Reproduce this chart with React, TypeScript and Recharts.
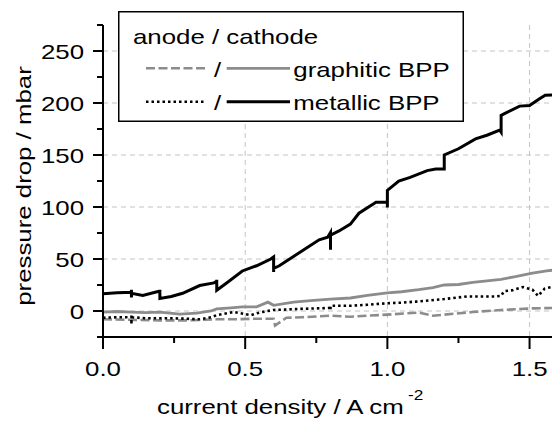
import { LineChart, Line, XAxis, YAxis, CartesianGrid, Legend, Label } from 'recharts'

const FONT = '"Liberation Sans", Arial, sans-serif'
const FS = 21
const SX = 1.23 // text in the figure is drawn wide

// current density / A cm-2 and pressure drop / mbar
const cathodeMetallicX = [0, 0.05, 0.1, 0.1, 0.1, 0.1, 0.14, 0.19, 0.2, 0.2, 0.2, 0.24, 0.28, 0.34, 0.39, 0.4, 0.4, 0.4, 0.43, 0.49, 0.54, 0.59, 0.6, 0.6, 0.6, 0.62, 0.69, 0.76, 0.79, 0.8, 0.8, 0.8, 0.83, 0.87, 0.9, 0.96, 0.995, 1.0, 1.0, 1.0, 1.04, 1.08, 1.14, 1.17, 1.2, 1.2, 1.25, 1.31, 1.35, 1.395, 1.4, 1.4, 1.41, 1.465, 1.5, 1.535, 1.555, 1.6]
const cathodeMetallicY = [16.5, 17.5, 18, 20.5, 13, 17, 15, 18.5, 19, 20.5, 12, 14, 17, 24.5, 27, 28.5, 30, 20, 26, 38.5, 43.5, 50, 52, 37.5, 41, 43.5, 56, 68.5, 71, 75.5, 59, 73, 77, 83.5, 94, 104.5, 104.5, 104, 99.5, 116, 125, 128.5, 135, 136.5, 136.5, 150, 156, 165.5, 169, 174, 172, 188, 189.5, 197, 197.5, 204, 207.5, 208]

const cathodeGraphiticX = [0, 0.05, 0.1, 0.15, 0.2, 0.27, 0.33, 0.38, 0.4, 0.45, 0.49, 0.54, 0.58, 0.6, 0.67, 0.73, 0.8, 0.87, 0.93, 1.0, 1.05, 1.11, 1.16, 1.2, 1.25, 1.3, 1.35, 1.4, 1.45, 1.51, 1.56, 1.6]
const cathodeGraphiticY = [-1, -0.5, -1, -1.5, -1, -3, -2, 0, 2, 3, 4, 4, 8.5, 5.5, 8.5, 10, 11.5, 12.5, 15, 17.5, 18.5, 20.5, 22.5, 25, 25.5, 27.5, 29, 30.5, 33, 36.5, 38.5, 40]

const anodeMetallicX = [0, 0.05, 0.1, 0.1, 0.1, 0.1, 0.15, 0.2, 0.25, 0.34, 0.38, 0.4, 0.46, 0.52, 0.55, 0.6, 0.65, 0.69, 0.75, 0.8, 0.8, 0.8, 0.87, 0.93, 1.0, 1.05, 1.1, 1.2, 1.28, 1.38, 1.4, 1.41, 1.44, 1.477, 1.51, 1.53, 1.553, 1.6]
const anodeMetallicY = [-6.5, -6, -6, -3, -13, -6, -7, -7, -7, -8, -6, -4, -1, -4, -1.5, 1, 1.5, 2, 2.5, 3, 1, 5, 5, 6, 7.5, 8, 9, 11.5, 14, 14, 14.5, 19, 20, 23, 20.5, 14.5, 21.5, 24.5]

const anodeGraphiticX = [0, 0.1, 0.2, 0.3, 0.4, 0.46, 0.52, 0.575, 0.6, 0.605, 0.645, 0.7, 0.8, 0.87, 0.93, 1.0, 1.11, 1.16, 1.2, 1.3, 1.4, 1.51, 1.6]
const anodeGraphiticY = [-8, -8.5, -9, -9, -8, -8, -7.5, -7.5, -7.5, -14, -6.5, -6, -4.5, -5.5, -4.5, -3.5, -1.5, -4.5, -3.5, -1, 1, 2.5, 3]

const xTicks = [0, 0.25, 0.5, 0.75, 1.0, 1.25, 1.5]
const xMajor = [0, 0.5, 1.0, 1.5]
const yTicks = [-25, 0, 25, 50, 75, 100, 125, 150, 175, 200, 225, 250, 275]
const yMajor = [0, 50, 100, 150, 200, 250]

const toPoints = (xs: number[], ys: number[]) => xs.map((x, i) => ({ x, y: ys[i] }))

const GRAY = '#8c8c8c'

const anodeGraphitic = { stroke: GRAY, width: 2.6, dash: '9 3.5' }
const cathodeGraphitic = { stroke: GRAY, width: 2.8, dash: undefined }
const anodeMetallic = { stroke: '#000', width: 2.6, dash: '2.5 3' }
const cathodeMetallic = { stroke: '#000', width: 3, dash: undefined }

const legendRows = [
  { label: 'graphitic BPP', anode: anodeGraphitic, cathode: cathodeGraphitic },
  { label: 'metallic BPP', anode: anodeMetallic, cathode: cathodeMetallic },
]

const textProps = { fontFamily: FONT, fontSize: FS, fill: '#000' }

const PLOT_LEFT = 103

const LeftTick = (props: any) => {
  const { y, payload } = props
  const major = yMajor.includes(payload.value)
  return (
    <g>
      <line x1={PLOT_LEFT - (major ? 10 : 6)} x2={PLOT_LEFT} y1={y} y2={y} stroke="#000" strokeWidth={2} />
      {major && (
        <text transform={`translate(${PLOT_LEFT - 19},${y + 7.5}) scale(${SX},1)`} textAnchor="end" {...textProps}>
          {payload.value}
        </text>
      )}
    </g>
  )
}

const RightTick = (props: any) => {
  const { x, y, payload } = props
  const major = yMajor.includes(payload.value)
  return <line x1={x - (major ? 10 : 6)} x2={x} y1={y} y2={y} stroke="#000" strokeWidth={2} />
}

const BottomTick = (props: any) => {
  const { x, y, payload } = props
  const major = xMajor.some((m) => Math.abs(m - payload.value) < 1e-6)
  return (
    <g>
      <line x1={x} x2={x} y1={y} y2={y + (major ? 12 : 6)} stroke="#000" strokeWidth={2} />
      {major && (
        <text transform={`translate(${x},${y + 38.5}) scale(${SX},1)`} textAnchor="middle" {...textProps}>
          {Number(payload.value).toFixed(1)}
        </text>
      )}
    </g>
  )
}

const TopTick = (props: any) => {
  const { x, y, payload } = props
  const major = xMajor.some((m) => Math.abs(m - payload.value) < 1e-6)
  return <line x1={x} x2={x} y1={y} y2={y + (major ? 12 : 6)} stroke="#000" strokeWidth={2} />
}

const XTitle = () => (
  <g>
    <text transform={`translate(157,414) scale(${SX},1)`} {...textProps}>
      current density / A cm
    </text>
    <text transform={`translate(408,400) scale(${SX},1)`} {...textProps} fontSize={14}>
      -2
    </text>
  </g>
)

const YTitle = () => (
  <text transform={`translate(30.6,186) rotate(-90) scale(${SX},1)`} textAnchor="middle" {...textProps}>
    pressure drop / mbar
  </text>
)

const LegendBox = () => (
  <svg width={346} height={111} style={{ display: 'block' }}>
    <rect x={0.75} y={0.75} width={344.5} height={109.5} fill="#fff" stroke="#000" strokeWidth={1.5} />
    <text transform={`translate(15,33.3) scale(${SX},1)`} {...textProps}>
      anode / cathode
    </text>
    {legendRows.map((row, i) => {
      const ly = 57.3 + i * 33.4
      const by = 66.3 + i * 33
      return (
        <g key={row.label}>
          <line x1={28} x2={87} y1={ly} y2={ly} stroke={row.anode.stroke} strokeWidth={row.anode.width} strokeDasharray={row.anode.dash} />
          <text transform={`translate(99.5,${by}) scale(${SX},1)`} textAnchor="middle" {...textProps}>
            /
          </text>
          <line x1={108.7} x2={172} y1={ly} y2={ly} stroke={row.cathode.stroke} strokeWidth={row.cathode.width} />
          <text transform={`translate(175.3,${by}) scale(${SX},1)`} {...textProps}>
            {row.label}
          </text>
        </g>
      )
    })}
  </svg>
)

const series = [
  { name: 'anode graphitic BPP', data: toPoints(anodeGraphiticX, anodeGraphiticY), style: anodeGraphitic },
  { name: 'cathode graphitic BPP', data: toPoints(cathodeGraphiticX, cathodeGraphiticY), style: cathodeGraphitic },
  { name: 'anode metallic BPP', data: toPoints(anodeMetallicX, anodeMetallicY), style: anodeMetallic },
  { name: 'cathode metallic BPP', data: toPoints(cathodeMetallicX, cathodeMetallicY), style: cathodeMetallic },
]

export default function App() {
  return (
    <div style={{ position: 'fixed', left: 0, top: 0, width: 552, height: 421, overflow: 'hidden', background: '#fff' }}>
      <LineChart width={560} height={421} margin={{ top: 25, right: 2, left: 0, bottom: 0 }}>
        <CartesianGrid
          stroke="#c4c4c4"
          strokeDasharray="5 4"
          horizontalValues={yMajor}
          verticalValues={[0.5, 1.0, 1.5]}
        />
        <XAxis
          dataKey="x"
          type="number"
          domain={[0, 1.6]}
          allowDataOverflow
          ticks={xTicks}
          interval={0}
          height={84}
          tickSize={0}
          tickMargin={0}
          tickLine={false}
          axisLine={{ stroke: '#000', strokeWidth: 2 }}
          tick={<BottomTick />}
        >
          <Label content={<XTitle />} />
        </XAxis>
        <XAxis
          xAxisId="top"
          dataKey="x"
          type="number"
          orientation="top"
          domain={[0, 1.6]}
          allowDataOverflow
          ticks={xTicks}
          interval={0}
          height={0}
          tickSize={0}
          tickMargin={0}
          tickLine={false}
          axisLine={{ stroke: '#000', strokeWidth: 2 }}
          tick={<TopTick />}
        />
        <YAxis
          type="number"
          domain={[-25, 275]}
          allowDataOverflow
          ticks={yTicks}
          interval={0}
          width={103}
          tickSize={0}
          tickMargin={0}
          tickLine={false}
          axisLine={{ stroke: '#000', strokeWidth: 2 }}
          tick={<LeftTick />}
        >
          <Label content={<YTitle />} />
        </YAxis>
        <YAxis
          yAxisId="right"
          orientation="right"
          type="number"
          domain={[-25, 275]}
          allowDataOverflow
          ticks={yTicks}
          interval={0}
          width={0}
          tickSize={0}
          tickMargin={0}
          tickLine={false}
          axisLine={{ stroke: '#000', strokeWidth: 2 }}
          tick={<RightTick />}
        />
        {series.map((s) => (
          <Line
            key={s.name}
            name={s.name}
            data={s.data}
            dataKey="y"
            type="linear"
            stroke={s.style.stroke}
            strokeWidth={s.style.width}
            strokeDasharray={s.style.dash}
            dot={false}
            activeDot={false}
            isAnimationActive={false}
          />
        ))}
        <Legend
          layout="vertical"
          align="center"
          verticalAlign="middle"
          wrapperStyle={{ left: 118, top: 11, width: 346 }}
          content={<LegendBox />}
        />
      </LineChart>
    </div>
  )
}
